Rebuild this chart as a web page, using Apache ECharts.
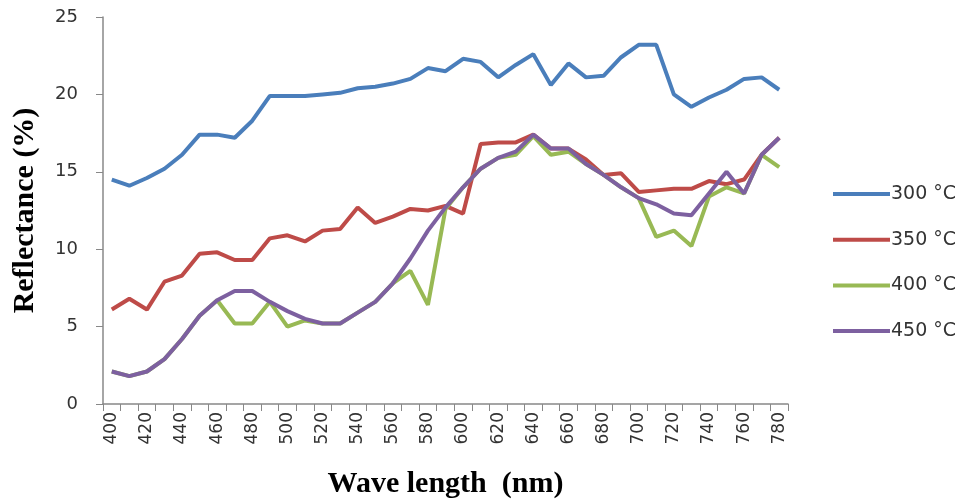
<!DOCTYPE html>
<html><head><meta charset="utf-8">
<script src="https://cdn.jsdelivr.net/npm/echarts@6/dist/echarts.min.js"></script>
<style>html,body{margin:0;padding:0;background:#fff}#c{width:965px;height:499px}</style>
</head><body><div id="c"></div>
<script>
const categories = ['400','410','420','430','440','450','460','470','480','490','500','510','520','530','540','550','560','570','580','590','600','610','620','630','640','650','660','670','680','690','700','710','720','730','740','750','760','770','780'];
const s300 = [14.5,14.1,14.6,15.2,16.1,17.4,17.4,17.2,18.3,19.9,19.9,19.9,20.0,20.1,20.4,20.5,20.7,21.0,21.7,21.5,22.3,22.1,21.1,21.9,22.6,20.6,22.0,21.1,21.2,22.4,23.2,23.2,20.0,19.2,19.8,20.3,21.0,21.1,20.3];
const s350 = [6.1,6.8,6.1,7.9,8.3,9.7,9.8,9.3,9.3,10.7,10.9,10.5,11.2,11.3,12.7,11.7,12.1,12.6,12.5,12.8,12.3,16.8,16.9,16.9,17.4,16.5,16.5,15.8,14.8,14.9,13.7,13.8,13.9,13.9,14.4,14.2,14.5,16.1,17.2];
const s400 = [2.1,1.8,2.1,2.9,4.2,5.7,6.7,5.2,5.2,6.6,5.0,5.4,5.2,5.2,5.9,6.6,7.8,8.6,6.4,12.6,14.0,15.2,15.9,16.1,17.3,16.1,16.3,15.5,14.8,14.0,13.3,10.8,11.2,10.2,13.4,14.0,13.6,16.1,15.3];
const s450 = [2.1,1.8,2.1,2.9,4.2,5.7,6.7,7.3,7.3,6.6,6.0,5.5,5.2,5.2,5.9,6.6,7.8,9.4,11.2,12.7,14.0,15.2,15.9,16.3,17.4,16.5,16.5,15.5,14.8,14.0,13.3,12.9,12.3,12.2,13.6,15.0,13.6,16.1,17.2];
const seriesNames = ['300 °C','350 °C','400 °C','450 °C'];
const colors = ['#4A7EBB','#BE4B48','#98B954','#7D60A0'];
const yTicks = [0,5,10,15,20,25];

const chart = echarts.init(document.getElementById('c'), null, {renderer:'canvas'});
const data = [s300,s350,s400,s450];
chart.setOption({
  animation:false,
  backgroundColor:'#fff',
  grid:{left:103,right:177,top:17,bottom:95,containLabel:false,outerBoundsMode:'none'},
  legend:{
    orient:'vertical', left:828, top:179, itemGap:25.7, itemWidth:57, itemHeight:4,
    icon:'rect',
    textStyle:{fontFamily:'DejaVu Sans', fontSize:19, lineHeight:20, color:'#333', padding:[0,0,0,-4]},
    data:seriesNames
  },
  xAxis:{
    type:'category', data:categories, boundaryGap:true,
    name:'Wave length  (nm)', nameLocation:'middle', nameGap:65,
    nameTextStyle:{fontFamily:'Liberation Serif', fontWeight:'bold', fontSize:30, color:'#000'},
    axisLine:{lineStyle:{color:'#888', width:1.5}},
    axisTick:{show:true, interval:0, length:7, lineStyle:{color:'#888'}},
    axisLabel:{interval:1, rotate:90, fontFamily:'DejaVu Sans', fontSize:17, color:'#333', margin:8}
  },
  yAxis:{
    type:'value', min:yTicks[0], max:yTicks[yTicks.length-1], interval:5,
    name:'Reflectance (%)', nameLocation:'middle', nameGap:63,
    nameTextStyle:{fontFamily:'Liberation Serif', fontWeight:'bold', fontSize:30, color:'#000'},
    axisLine:{show:true, lineStyle:{color:'#888', width:1.5}},
    axisTick:{show:true, length:7, lineStyle:{color:'#888'}},
    splitLine:{show:false},
    axisLabel:{fontFamily:'DejaVu Sans', fontSize:18, color:'#333', margin:25}
  },
  series: data.map((d,i)=>({
    name:seriesNames[i], type:'line', data:d, showSymbol:false, symbol:'none',
    lineStyle:{color:colors[i], width:4}, itemStyle:{color:colors[i]}, z:i+2
  }))
});
</script></body></html>
